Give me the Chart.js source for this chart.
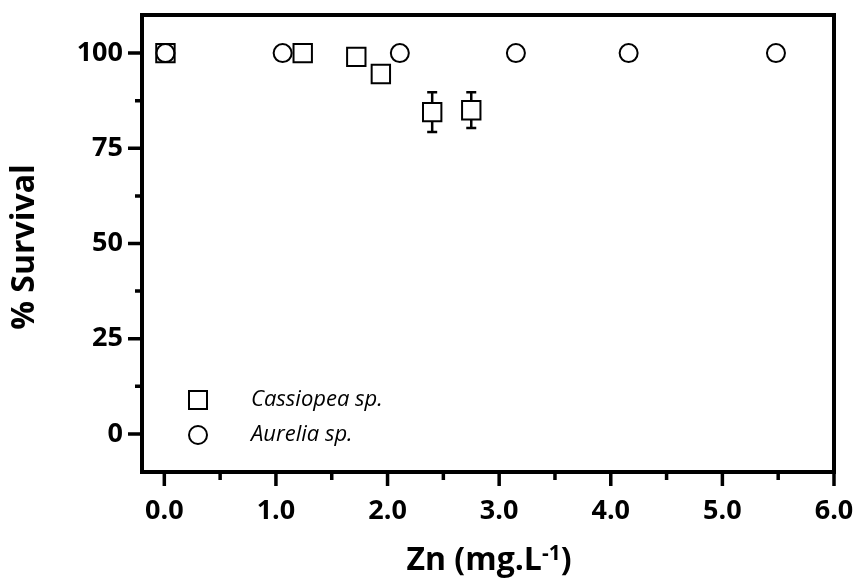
<!DOCTYPE html>
<html lang="en">
<head>
    <meta charset="UTF-8">
    <title>Zn survival</title>
    <script src="https://cdn.jsdelivr.net/npm/chart.js"></script>
    <style>
        html, body { margin: 0; padding: 0; background: #fff; }
        #wrap { width: 859px; height: 583px; }
    </style>
</head>
<body>
    <div id="wrap"><canvas id="chart"></canvas></div>

    <script>
        // Cassiopea sp. (open squares, with error bars)
        const cassiopeaZn = [0.01, 1.24, 1.72, 1.94, 2.40, 2.75];
        const cassiopeaSurvival = [100, 100, 99, 94.5, 84.5, 85];
        const cassiopeaErr = [0, 0, 0, 0, 5.2, 4.7];

        // Aurelia sp. (open circles)
        const aureliaZn = [0.01, 1.06, 2.11, 3.15, 4.16, 5.48];
        const aureliaSurvival = [100, 100, 100, 100, 100, 100];

        // Axis ticks
        const yMajorTicks = [0, 25, 50, 75, 100];
        const yMinorTicks = [12.5, 37.5, 62.5, 87.5];
        const xMajorTicks = [0, 1, 2, 3, 4, 5, 6];
        const xMinorTicks = [0.5, 1.5, 2.5, 3.5, 4.5, 5.5];

        const FONT = '"Open Sans", Lato, sans-serif';

        // error bars, box frame, tick marks, legend and axis titles
        const decorations = {
            id: 'decorations',
            beforeDatasetsDraw(chart) {
                const ctx = chart.ctx;
                const xs = chart.scales.x, ys = chart.scales.y;
                ctx.save();
                ctx.strokeStyle = '#000';
                ctx.lineWidth = 2.5;
                cassiopeaZn.forEach((zn, i) => {
                    const e = cassiopeaErr[i];
                    if (!e) return;
                    const x = xs.getPixelForValue(zn);
                    const yTop = ys.getPixelForValue(cassiopeaSurvival[i] + e);
                    const yBot = ys.getPixelForValue(cassiopeaSurvival[i] - e);
                    ctx.beginPath();
                    ctx.moveTo(x, yTop); ctx.lineTo(x, yBot);
                    ctx.moveTo(x - 5, yTop); ctx.lineTo(x + 5, yTop);
                    ctx.moveTo(x - 5, yBot); ctx.lineTo(x + 5, yBot);
                    ctx.stroke();
                });
                ctx.restore();
            },
            afterDraw(chart) {
                const ctx = chart.ctx;
                const a = chart.chartArea;
                const xs = chart.scales.x, ys = chart.scales.y;
                ctx.save();
                ctx.strokeStyle = '#000';

                // frame
                ctx.lineWidth = 4;
                ctx.strokeRect(a.left, a.top, a.right - a.left, a.bottom - a.top);

                // tick marks
                ctx.lineWidth = 3.5;
                ctx.beginPath();
                yMajorTicks.forEach(v => {
                    const y = ys.getPixelForValue(v);
                    ctx.moveTo(a.left - 14, y); ctx.lineTo(a.left, y);
                });
                yMinorTicks.forEach(v => {
                    const y = ys.getPixelForValue(v);
                    ctx.moveTo(a.left - 7, y); ctx.lineTo(a.left, y);
                });
                xMajorTicks.forEach(v => {
                    const x = xs.getPixelForValue(v);
                    ctx.moveTo(x, a.bottom); ctx.lineTo(x, a.bottom + 14);
                });
                xMinorTicks.forEach(v => {
                    const x = xs.getPixelForValue(v);
                    ctx.moveTo(x, a.bottom); ctx.lineTo(x, a.bottom + 8);
                });
                ctx.stroke();

                // legend
                const lx = a.left + 56;
                const rows = [
                    { y: a.bottom - 72, style: 'rect', label: chart.data.datasets[0].label },
                    { y: a.bottom - 37, style: 'circle', label: chart.data.datasets[1].label }
                ];
                ctx.lineWidth = 2;
                rows.forEach(r => {
                    ctx.beginPath();
                    if (r.style === 'rect') {
                        ctx.rect(lx - 9, r.y - 9, 18, 18);
                    } else {
                        ctx.arc(lx, r.y, 9, 0, Math.PI * 2);
                    }
                    ctx.stroke();
                    ctx.fillStyle = '#000';
                    ctx.font = 'italic 22px ' + FONT;
                    ctx.textBaseline = 'middle';
                    ctx.textAlign = 'left';
                    ctx.fillText(r.label, a.left + 109, r.y);
                });

                // y axis title
                ctx.save();
                ctx.translate(25, 247);
                ctx.rotate(-Math.PI / 2);
                ctx.font = 'bold 32px ' + FONT;
                ctx.textAlign = 'center';
                ctx.textBaseline = 'middle';
                ctx.fillText('% Survival', 0, 0);
                ctx.restore();

                // x axis title with superscript
                const base = 570;
                const big = 'bold 32px ' + FONT;
                const small = 'bold 21px ' + FONT;
                ctx.textAlign = 'left';
                ctx.textBaseline = 'alphabetic';
                ctx.font = big;
                const w1 = ctx.measureText('Zn (mg.L').width;
                const w3 = ctx.measureText(')').width;
                ctx.font = small;
                const w2 = ctx.measureText('-1').width;
                let x = 489 - (w1 + w2 + w3) / 2;
                ctx.font = big;
                ctx.fillText('Zn (mg.L', x, base);
                x += w1;
                ctx.font = small;
                ctx.fillText('-1', x, base - 10);
                x += w2;
                ctx.font = big;
                ctx.fillText(')', x, base);

                ctx.restore();
            }
        };

        new Chart(document.getElementById('chart'), {
            type: 'scatter',
            data: {
                datasets: [
                    {
                        label: 'Cassiopea sp.',
                        data: cassiopeaZn.map((x, i) => ({ x: x, y: cassiopeaSurvival[i] })),
                        order: 1,
                        pointStyle: 'rect',
                        pointRadius: 13,
                        pointHoverRadius: 13,
                        borderColor: '#000',
                        backgroundColor: '#fff',
                        borderWidth: 2
                    },
                    {
                        label: 'Aurelia sp.',
                        data: aureliaZn.map((x, i) => ({ x: x, y: aureliaSurvival[i] })),
                        order: 0,
                        pointStyle: 'circle',
                        pointRadius: 9,
                        pointHoverRadius: 9,
                        borderColor: '#000',
                        backgroundColor: 'rgba(255,255,255,0)',
                        borderWidth: 2
                    }
                ]
            },
            options: {
                responsive: true,
                maintainAspectRatio: false,
                animation: false,
                layout: { padding: { top: 11, right: 25, left: 0, bottom: 0 } },
                plugins: {
                    legend: { display: false },
                    tooltip: { enabled: false }
                },
                scales: {
                    x: {
                        type: 'linear',
                        min: -0.2,
                        max: 6.0,
                        afterBuildTicks: s => { s.ticks = xMajorTicks.map(v => ({ value: v })); },
                        afterFit: s => { s.height = 111; s.paddingLeft = 0; s.paddingRight = 0; },
                        grid: { display: false, drawTicks: false },
                        border: { display: false },
                        ticks: {
                            color: '#000',
                            padding: 23,
                            maxRotation: 0,
                            font: { family: FONT, size: 27, weight: 'bold' },
                            callback: v => v.toFixed(1)
                        }
                    },
                    y: {
                        type: 'linear',
                        min: -10,
                        max: 110,
                        afterBuildTicks: s => { s.ticks = yMajorTicks.map(v => ({ value: v })); },
                        afterFit: s => { s.width = 142; s.paddingTop = 0; s.paddingBottom = 0; },
                        grid: { display: false, drawTicks: false },
                        border: { display: false },
                        ticks: {
                            color: '#000',
                            padding: 19,
                            font: { family: FONT, size: 27, weight: 'bold' }
                        }
                    }
                }
            },
            plugins: [decorations]
        });
    </script>
</body>
</html>
